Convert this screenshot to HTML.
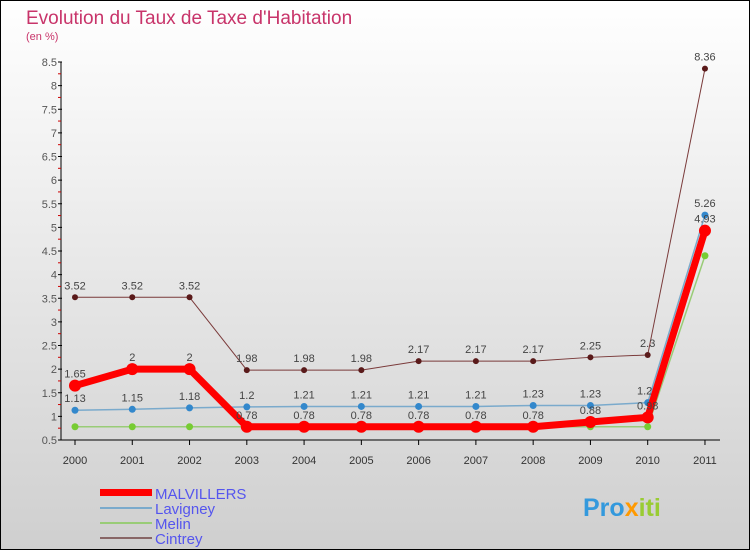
<!DOCTYPE html>
<html><head><meta charset="utf-8"><style>
body{margin:0}
#c{width:750px;height:550px;position:relative;}
svg text{font-family:"Liberation Sans",sans-serif}
</style></head><body>
<div id="c">
<svg id="s" width="750" height="550" xmlns="http://www.w3.org/2000/svg">
<defs><linearGradient id="bg" x1="0" y1="0" x2="0" y2="1"><stop offset="0" stop-color="#ffffff"/><stop offset="1" stop-color="#cfcfcf"/></linearGradient></defs>
<rect x="0.5" y="0.5" width="749" height="549" fill="url(#bg)" stroke="#000"/>
<text x="26" y="24" font-size="19" fill="#c8346a">Evolution du Taux de Taxe d'Habitation</text>
<text x="26" y="40" font-size="11" fill="#c8346a">(en %)</text>
<g id="axes"></g><g id="series"></g>
<g>
<rect x="100" y="489" width="52" height="7" fill="#ff0000"/>
<text x="155" y="499" font-size="15" fill="#5555ee">MALVILLERS</text>
<rect x="100" y="507" width="52" height="2" fill="#7aaacc"/>
<text x="155" y="514" font-size="15" fill="#5555ee">Lavigney</text>
<rect x="100" y="522" width="52" height="2" fill="#99cc77"/>
<text x="155" y="529" font-size="15" fill="#5555ee">Melin</text>
<rect x="100" y="537" width="52" height="2" fill="#886666"/>
<text x="155" y="544" font-size="15" fill="#5555ee">Cintrey</text>
</g>
<text x="583" y="516" font-size="25" font-weight="bold" fill="#3399dd">Pro<tspan fill="#ff9900">x</tspan><tspan fill="#99cc33">iti</tspan></text>
</svg></div>
<script>
const years=["2000","2001","2002","2003","2004","2005","2006","2007","2008","2009","2010","2011"];
const yTicks=[0.5,1,1.5,2,2.5,3,3.5,4,4.5,5,5.5,6,6.5,7,7.5,8,8.5];
const malvillers=[1.65,2,2,0.78,0.78,0.78,0.78,0.78,0.78,0.88,0.98,4.93];
const lavigney=[1.13,1.15,1.18,1.2,1.21,1.21,1.21,1.21,1.23,1.23,1.29,5.26];
const melin=[0.78,0.78,0.78,0.78,0.78,0.78,0.78,0.78,0.78,0.78,0.78,4.4];
const cintrey=[3.52,3.52,3.52,1.98,1.98,1.98,2.17,2.17,2.17,2.25,2.3,8.36];
const NS="http://www.w3.org/2000/svg";
const X=i=>75+i*57.27, Y=v=>440-(v-0.5)*47.25;
function mk(t,a,p){const e=document.createElementNS(NS,t);for(const k in a)e.setAttribute(k,a[k]);p.appendChild(e);return e;}
const ax=document.getElementById('axes'), sg=document.getElementById('series');
let l=mk('line',{x1:61,y1:Y(8.5),x2:61,y2:Y(0.5),stroke:'#000'},ax);


l=mk('line',{x1:61,y1:Y(0.5),x2:720,y2:Y(0.5),stroke:'#000'},ax);


yTicks.forEach((v,k)=>{
 mk('line',{x1:58,x2:62,y1:Y(v),y2:Y(v),stroke:'#000'},ax);
 if(k>0) mk('line',{x1:58,x2:61,y1:Y(v)+11.8,y2:Y(v)+11.8,stroke:'#c00'},ax);
 const t=mk('text',{x:57,y:Y(v)+4,'font-size':11,fill:'#555','text-anchor':'end'},ax);t.textContent=v;
 
 
});
years.forEach((y,i)=>{
 mk('line',{x1:X(i),x2:X(i),y1:Y(0.5),y2:Y(0.5)+5,stroke:'#000'},ax);
 const t=mk('text',{x:X(i),y:464,'font-size':11,fill:'#333','text-anchor':'middle'},ax);t.textContent=y;
 
 
});
function series(d,name,col,w,r,dot,lab){
 const g=mk('g',{},sg);
 
 
 mk('polyline',{points:d.map((v,i)=>X(i)+','+Y(v)).join(' '),fill:'none',stroke:col,'stroke-width':w,'stroke-linejoin':'round'},g);
 d.forEach((v,i)=>{
  const c=mk('circle',{cx:X(i),cy:Y(v),r:r,fill:dot},g);
  
  
  if(lab){const t=mk('text',{x:X(i),y:Y(v)-8,'font-size':11,fill:'#444','text-anchor':'middle'},g);t.textContent=v;
  
  }
 });
}
series(cintrey,'cintrey','#7a3a3a',1,3,'#5a1a1a',true);
series(melin,'melin','#99cc77',1.5,3.5,'#77cc33',false);
series(lavigney,'lavigney','#7aaacc',1.5,3.5,'#3388cc',true);
series(malvillers,'malvillers','#ff0000',7,6,'#ff0000',true);
</script>
</body></html>
